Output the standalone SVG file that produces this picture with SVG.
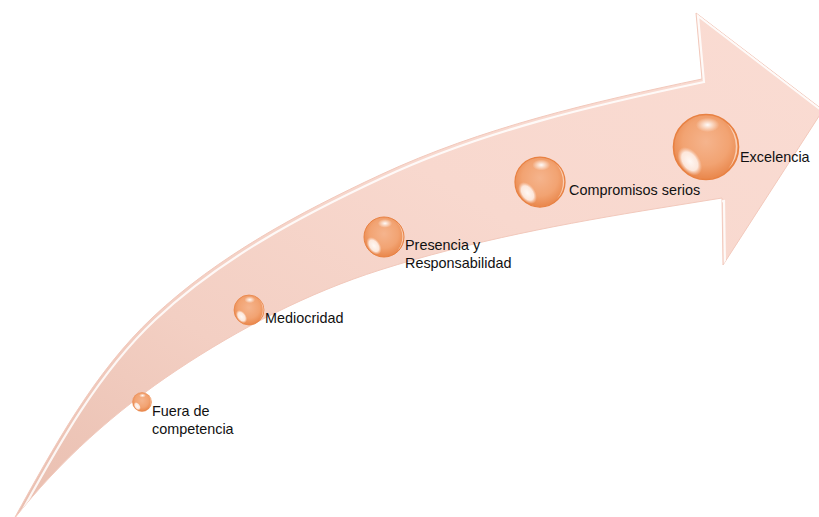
<svg xmlns="http://www.w3.org/2000/svg" xmlns:xlink="http://www.w3.org/1999/xlink" width="819" height="517" viewBox="0 0 819 517">
  <style>
    .lbl { font-family: "Liberation Sans", Arial, sans-serif; font-size: 14.4px; fill: #111111; }
  </style>
  <defs>
    <linearGradient id="arrowFill" x1="0" y1="1" x2="1" y2="0">
      <stop offset="0" stop-color="#E9BEAF"/>
      <stop offset="0.3" stop-color="#F3CFC3"/>
      <stop offset="0.6" stop-color="#F8D8CE"/>
      <stop offset="1" stop-color="#FADCD3"/>
    </linearGradient>
    <path id="arrowPath" d="M14,519 C54,446.6 94,372.5 153,317 C218,256 299.4,212.6 380,175 C481.5,127.6 592.4,102 702,79 L696,13 L823,110 L723,265 L722,198 L660,208 C565.3,223.3 471.5,240.9 380,270 C308.5,292.7 239.4,328.4 177,370 C115.4,411 59.8,460.8 14,519 Z"/>
    <clipPath id="arrowClip"><use xlink:href="#arrowPath"/></clipPath>
    <radialGradient id="ballFill" cx="0.5" cy="0.42" r="0.55">
      <stop offset="0" stop-color="#F5B48D"/>
      <stop offset="0.65" stop-color="#F2A372"/>
      <stop offset="1" stop-color="#EA8A50"/>
    </radialGradient>
    <radialGradient id="hiTop" cx="0.5" cy="0.5" r="0.5">
      <stop offset="0" stop-color="#FFFFFF" stop-opacity="0.95"/>
      <stop offset="1" stop-color="#FFFFFF" stop-opacity="0"/>
    </radialGradient>
    <radialGradient id="hiLow" cx="0.5" cy="0.5" r="0.5">
      <stop offset="0" stop-color="#FFF8F4" stop-opacity="1"/>
      <stop offset="0.65" stop-color="#FDEBE1" stop-opacity="0.95"/>
      <stop offset="1" stop-color="#F8D2BE" stop-opacity="0"/>
    </radialGradient>
    <g id="ball">
      <circle r="10" fill="url(#ballFill)" stroke="#E88142" stroke-width="0.5"/>
      <path d="M6.5,-7.2 A9.6,9.6 0 0 1 6.8,6.8 A11,11 0 0 0 6.5,-7.2 Z" fill="#FBD9C4" opacity="0.85"/>
      <ellipse cx="0.5" cy="-6.8" rx="3.6" ry="2.2" fill="url(#hiTop)"/>
      <ellipse cx="-5" cy="4.4" rx="3.1" ry="4.9" transform="rotate(-35 -5 4.4)" fill="url(#hiLow)"/>
    </g>
  </defs>

  <g id="arrow">
    <use xlink:href="#arrowPath" fill="url(#arrowFill)" stroke="#F2C9BC" stroke-width="1"/>
    <g clip-path="url(#arrowClip)">
      <use xlink:href="#arrowPath" transform="translate(2,3)" fill="none" stroke="#FFFFFF" stroke-width="2.2" stroke-opacity="0.85"/>
    </g>
  </g>

  <g id="node-fuera">
    <use xlink:href="#ball" transform="translate(142,402) scale(0.95)"/>
    <text class="lbl" x="152" y="416">Fuera de</text>
    <text class="lbl" x="152" y="434">competencia</text>
  </g>
  <g id="node-mediocridad">
    <use xlink:href="#ball" transform="translate(249,310) scale(1.5)"/>
    <text class="lbl" x="265" y="323">Mediocridad</text>
  </g>
  <g id="node-presencia">
    <use xlink:href="#ball" transform="translate(384,237) scale(2)"/>
    <text class="lbl" x="405" y="250">Presencia y</text>
    <text class="lbl" x="405" y="268">Responsabilidad</text>
  </g>
  <g id="node-compromisos">
    <use xlink:href="#ball" transform="translate(540,182) scale(2.5)"/>
    <text class="lbl" x="569" y="195">Compromisos serios</text>
  </g>
  <g id="node-excelencia">
    <use xlink:href="#ball" transform="translate(706,147) scale(3.25)"/>
    <text class="lbl" x="740" y="162">Excelencia</text>
  </g>
</svg>
